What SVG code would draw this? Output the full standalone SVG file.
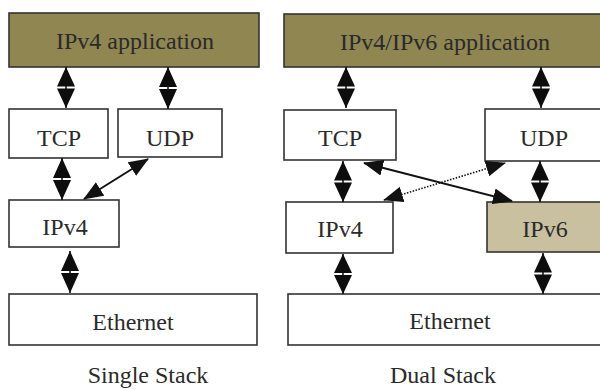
<svg xmlns="http://www.w3.org/2000/svg" width="600" height="390" viewBox="0 0 600 390">
<defs>
<marker id="ah" markerUnits="userSpaceOnUse" markerWidth="20" markerHeight="16" refX="19" refY="8" orient="auto-start-reverse" viewBox="0 0 20 16">
<path d="M0,0 L20,8 L0,16 z" fill="#111"/>
</marker>
<style>
.box{fill:#fff;stroke:#333;stroke-width:1.6}
.app{fill:#8f8651;stroke:#333;stroke-width:1.6}
.v6{fill:#c8c09f;stroke:#333;stroke-width:1.6}
.lbl{font-family:'Liberation Serif','DejaVu Serif',serif;font-size:24px;fill:#2a2a2a;text-anchor:middle}
.tri{fill:#0d0d0d}
.stem{stroke:#0d0d0d;stroke-width:1.5}
.diag{stroke:#111;stroke-width:2;fill:none}
.dot{stroke:#111;stroke-width:1.6;stroke-dasharray:1.5 1.5;fill:none}
</style>
</defs>
<rect width="600" height="390" fill="#fff"/>
<g font-family="Liberation Serif, DejaVu Serif, serif" font-size="24" text-anchor="middle" fill="#2a2a2a">
<g id="left-app"><rect class="app" x="9" y="13" width="250" height="54"/><text class="lbl" x="135" y="49">IPv4 application</text></g>
<g id="left-tcp"><rect class="box" x="9" y="109" width="99" height="49"/><text class="lbl" x="59" y="146">TCP</text></g>
<g id="left-udp"><rect class="box" x="118" y="109" width="104" height="48"/><text class="lbl" x="170" y="146">UDP</text></g>
<g id="left-ipv4"><rect class="box" x="9" y="200" width="110" height="47"/><text class="lbl" x="65" y="235">IPv4</text></g>
<g id="left-eth"><rect class="box" x="9" y="294" width="248" height="51"/><text class="lbl" x="133" y="330">Ethernet</text></g>
<g id="label-single"><text class="lbl" x="148" y="383">Single Stack</text></g>
<g id="right-app"><rect class="app" x="284" y="14" width="330" height="53"/><text class="lbl" x="445" y="50">IPv4/IPv6 application</text></g>
<g id="right-tcp"><rect class="box" x="284" y="110" width="112" height="50"/><text class="lbl" x="340" y="146">TCP</text></g>
<g id="right-udp"><rect class="box" x="485" y="109" width="130" height="52"/><text class="lbl" x="544" y="146">UDP</text></g>
<g id="right-ipv4"><rect class="box" x="286" y="202" width="107" height="51"/><text class="lbl" x="340" y="237">IPv4</text></g>
<g id="right-ipv6"><rect class="v6" x="487" y="202" width="130" height="50"/><text class="lbl" x="545" y="237">IPv6</text></g>
<g id="right-eth"><rect class="box" x="288" y="294" width="330" height="51"/><text class="lbl" x="450" y="329">Ethernet</text></g>
<g id="label-dual"><text class="lbl" x="443" y="383">Dual Stack</text></g>
</g>
<g id="connectors">
<g id="v-arrows">
<line class="stem" x1="66" y1="67" x2="66" y2="108"/>
<polygon class="tri" points="66,67 57,86.5 75,86.5"/><polygon class="tri" points="57,88.5 75,88.5 66,108"/>
<line class="stem" x1="168" y1="67" x2="168" y2="109"/>
<polygon class="tri" points="168,67 159,87 177,87"/><polygon class="tri" points="159,89 177,89 168,109"/>
<line class="stem" x1="62" y1="158" x2="62" y2="200"/>
<polygon class="tri" points="62,158 53,178 71,178"/><polygon class="tri" points="53,180 71,180 62,200"/>
<line class="stem" x1="70" y1="251" x2="70" y2="293"/>
<polygon class="tri" points="70,251 61,271 79,271"/><polygon class="tri" points="61,273 79,273 70,293"/>
<line class="stem" x1="346" y1="67" x2="346" y2="108"/>
<polygon class="tri" points="346,67 337,86.5 355,86.5"/><polygon class="tri" points="337,88.5 355,88.5 346,108"/>
<line class="stem" x1="541" y1="67" x2="541" y2="108"/>
<polygon class="tri" points="541,67 532,86.5 550,86.5"/><polygon class="tri" points="532,88.5 550,88.5 541,108"/>
<line class="stem" x1="343" y1="161" x2="343" y2="202"/>
<polygon class="tri" points="343,161 334,180.5 352,180.5"/><polygon class="tri" points="334,182.5 352,182.5 343,202"/>
<line class="stem" x1="540" y1="161" x2="540" y2="202"/>
<polygon class="tri" points="540,161 531,180.5 549,180.5"/><polygon class="tri" points="531,182.5 549,182.5 540,202"/>
<line class="stem" x1="343" y1="254" x2="343" y2="294"/>
<polygon class="tri" points="343,254 334,273 352,273"/><polygon class="tri" points="334,275 352,275 343,294"/>
<line class="stem" x1="543" y1="253" x2="543" y2="294"/>
<polygon class="tri" points="543,253 534,272.5 552,272.5"/><polygon class="tri" points="534,274.5 552,274.5 543,294"/>
</g>
<line class="diag" x1="148" y1="159" x2="84" y2="199" marker-start="url(#ah)" marker-end="url(#ah)"/>
<line class="diag" x1="364" y1="163" x2="512" y2="201" marker-start="url(#ah)" marker-end="url(#ah)"/>
<line class="dot" x1="384" y1="200" x2="505" y2="163" marker-start="url(#ah)" marker-end="url(#ah)"/>
</g>
</svg>
